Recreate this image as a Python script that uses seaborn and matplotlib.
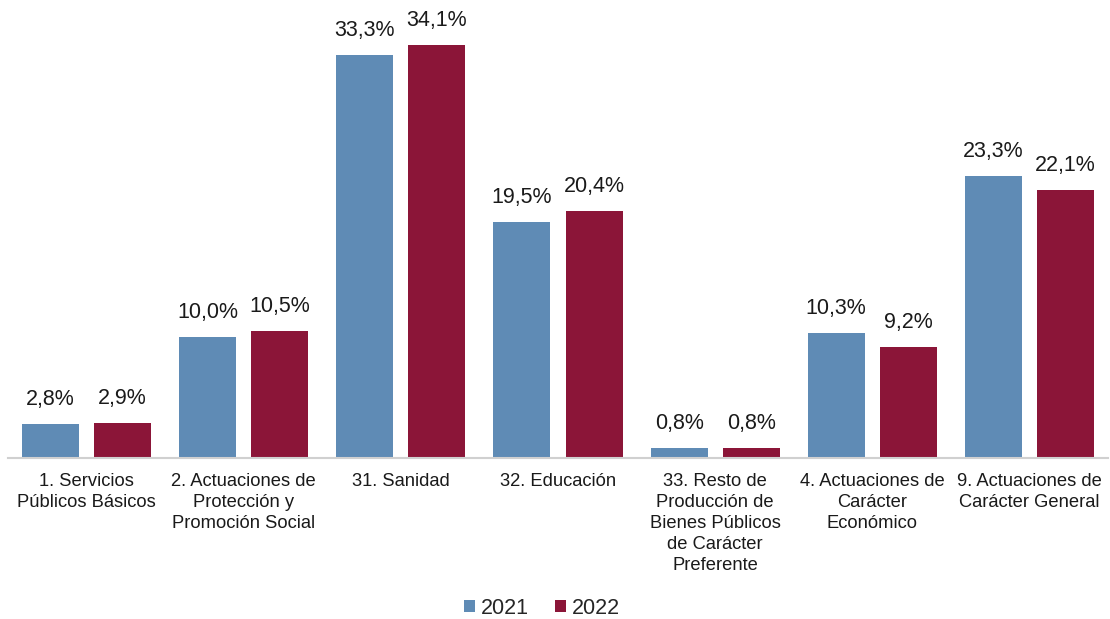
import matplotlib
matplotlib.use("Agg")
import matplotlib.pyplot as plt
import seaborn as sns
import pandas as pd

categories = [
    "1. Servicios\nPúblicos Básicos",
    "2. Actuaciones de\nProtección y\nPromoción Social",
    "31. Sanidad",
    "32. Educación",
    "33. Resto de\nProducción de\nBienes Públicos\nde Carácter\nPreferente",
    "4. Actuaciones de\nCarácter\nEconómico",
    "9. Actuaciones de\nCarácter General",
]
values_2021 = [2.8, 10.0, 33.3, 19.5, 0.8, 10.3, 23.3]
values_2022 = [2.9, 10.5, 34.1, 20.4, 0.8, 9.2, 22.1]
series = ["2021", "2022"]
colors = ["#5F8BB5", "#8B1538"]

df = pd.DataFrame({
    "cat": categories * 2,
    "val": values_2021 + values_2022,
    "year": [series[0]] * len(categories) + [series[1]] * len(categories),
})

sns.set_theme(style="white")
plt.rcParams["font.family"] = ["Liberation Sans", "DejaVu Sans"]

fig = plt.figure(figsize=(11.1, 6.19), dpi=100)
ax = fig.add_axes([8 / 1110, (619 - 458) / 619, 1100 / 1110, 458 / 619])

sns.barplot(data=df, x="cat", y="val", hue="year", palette=colors,
            width=0.918, gap=0.21, ax=ax, saturation=1, legend=True,
            linewidth=0, edgecolor="none")

ax.set_xlim(-0.5, 6.5)
ax.set_ylim(0, 37.8)
for s in ["top", "left", "right"]:
    ax.spines[s].set_visible(False)
ax.spines["bottom"].set_color("#D0D0D0")
ax.spines["bottom"].set_linewidth(1.5)
ax.set_yticks([])
ax.set_xlabel("")
ax.set_ylabel("")
ax.set_xticks(range(len(categories)))
ax.set_xticklabels(categories, linespacing=1.3, fontsize=13.2,
                   color="#1a1a1a", va="top")
ax.tick_params(axis="x", length=0, pad=11)

for cont in ax.containers:
    labels = [f"{v:.1f}%".replace(".", ",") for v in cont.datavalues]
    ax.bar_label(cont, labels=labels, padding=10, fontsize=15.5, color="#1a1a1a")

leg = ax.legend(loc="center", bbox_to_anchor=(542 / 1110, (619 - 608) / 619),
                bbox_transform=fig.transFigure, ncol=2, frameon=False,
                fontsize=15.5, handlelength=0.5, handleheight=0.5,
                handletextpad=0.3, columnspacing=1.2)

fig.savefig("out.png", dpi=100)
